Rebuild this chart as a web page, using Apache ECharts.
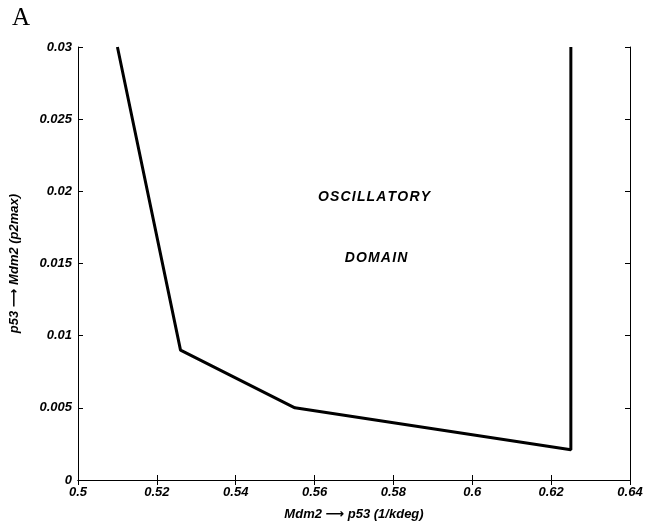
<!DOCTYPE html>
<html lang="en">
<head>
    <meta charset="UTF-8">
    <title>Oscillatory domain</title>
    <script src="https://cdn.jsdelivr.net/npm/echarts@6/dist/echarts.min.js"></script>
    <style>
        body { margin: 0; background: #fff; }
        #chart { width: 648px; height: 527px; }
    </style>
</head>
<body>
    <div id="chart"></div>
    <script>
        // boundary of the oscillatory domain
        var kdegValues = [0.51, 0.526, 0.555, 0.625, 0.625];
        var p2maxValues = [0.03, 0.009, 0.005, 0.0021, 0.03];
        var xTicks = [0.5, 0.64, 0.02];
        var yTicks = [0, 0.03, 0.005];

        var boundary = kdegValues.map(function (x, i) { return [x, p2maxValues[i]]; });

        var font = '"Liberation Sans", "DejaVu Sans"';
        var labelStyle = { color: '#000', fontFamily: font, fontWeight: 'bold', fontStyle: 'italic', fontSize: 13 };
        var axisCommon = {
            type: 'value',
            axisLine: { show: true, lineStyle: { color: '#000', width: 1 } },
            axisTick: { show: true, inside: true, length: 5, lineStyle: { color: '#000' } },
            splitLine: { show: false }
        };

        var chart = echarts.init(document.getElementById('chart'));
        chart.setOption({
            animation: false,
            grid: { left: 77, right: 18, top: 47, bottom: 47 },
            xAxis: [
                Object.assign({}, axisCommon, {
                    min: xTicks[0], max: xTicks[1], interval: xTicks[2],
                    name: 'Mdm2 \u27F6 p53 (1/kdeg)',
                    nameLocation: 'middle', nameGap: 28,
                    nameTextStyle: labelStyle,
                    axisLabel: Object.assign({ margin: 6 }, labelStyle)
                }),
                Object.assign({}, axisCommon, {
                    min: xTicks[0], max: xTicks[1], interval: xTicks[2],
                    position: 'top', axisLabel: { show: false }
                })
            ],
            yAxis: [
                Object.assign({}, axisCommon, {
                    min: yTicks[0], max: yTicks[1], interval: yTicks[2],
                    name: 'p53 \u27F6 Mdm2 (p2max)',
                    nameLocation: 'middle', nameGap: 57,
                    nameTextStyle: labelStyle,
                    axisLabel: Object.assign({ margin: 6 }, labelStyle)
                }),
                Object.assign({}, axisCommon, {
                    min: yTicks[0], max: yTicks[1], interval: yTicks[2],
                    position: 'right', axisLabel: { show: false }
                })
            ],
            graphic: [
                { type: 'text', left: 12, top: 6, style: { text: 'A', font: '25px "Liberation Serif"', fill: '#000' } },
                { type: 'text', x: 374, y: 197, style: { text: 'O S C I L L A T O R Y'.replace(/ /g, '\u200A'), font: 'italic bold 14px "Liberation Sans"', fill: '#000', align: 'center', verticalAlign: 'middle' } },
                { type: 'text', x: 376, y: 258, style: { text: 'D O M A I N'.replace(/ /g, '\u200A'), font: 'italic bold 14px "Liberation Sans"', fill: '#000', align: 'center', verticalAlign: 'middle' } }
            ],
            series: [{
                type: 'line',
                data: boundary,
                showSymbol: false,
                lineStyle: { color: '#000', width: 3 },
                clip: true
            }]
        });
    </script>
</body>
</html>
